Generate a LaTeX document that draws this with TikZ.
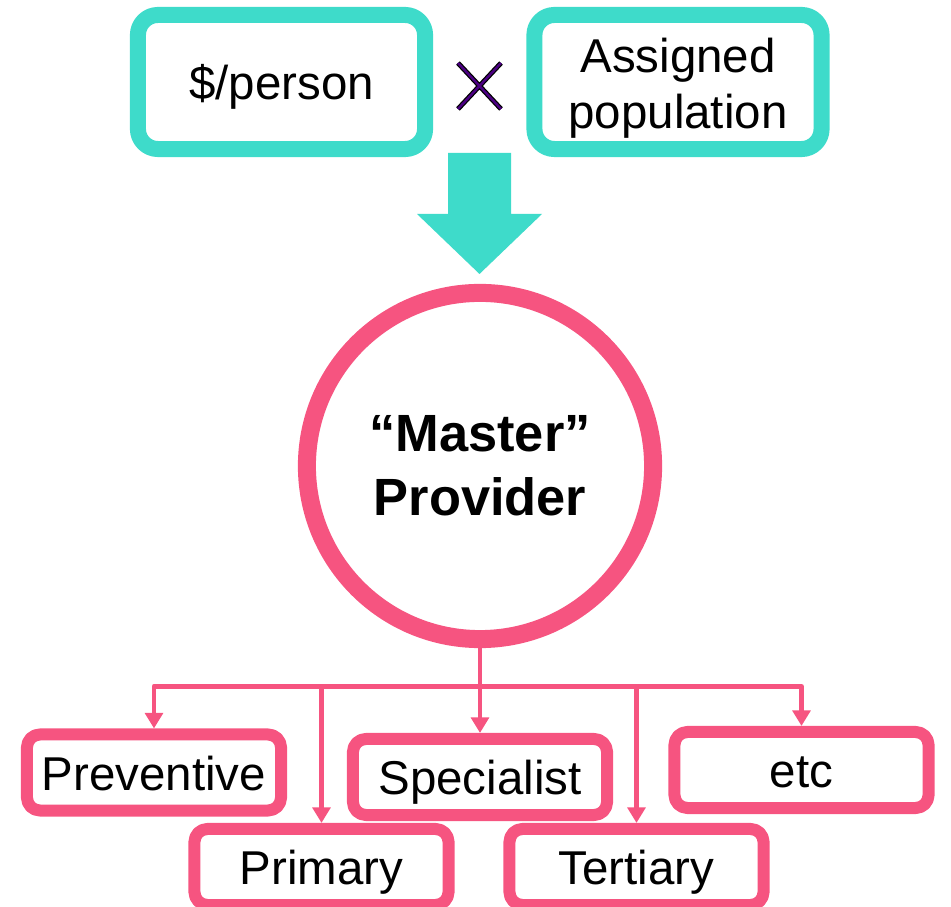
\documentclass[tikz,border=0pt]{standalone}
\usepackage{fontspec}
\setmainfont{Liberation Sans}
\usetikzlibrary{arrows.meta}
\definecolor{tealc}{RGB}{62,219,202}
\definecolor{pinkc}{RGB}{246,84,128}
\definecolor{purplec}{RGB}{75,0,130}
\begin{document}
\begin{tikzpicture}[x=0.01cm, y=-0.01cm, font=\fontsize{13.5pt}{15.9pt}\selectfont, line join=round, >={Triangle[length=4.4pt,width=5pt]},
	tealbox/.style={draw=tealc, fill=white, line width=0.16cm, rounded corners=0.2cm, minimum width=2.87cm, minimum height=1.34cm, align=center, inner sep=0pt, text height=10.2pt, text depth=0pt},
	pinkbox/.style={draw=pinkc, fill=white, line width=0.12cm, rounded corners=0.13cm, minimum width=2.54cm, minimum height=0.76cm, inner sep=0pt, text height=10pt, text depth=0pt},
	link/.style={draw=pinkc, line width=1.4pt, ->},
	times/.style={draw=black, double=purplec, double distance=0.7pt, line width=0.35pt}]
	\useasboundingbox (0,0) rectangle (951,907);
	% top row
	\node[tealbox] (cost) at (281.5,82) {\$/person};
	\node[tealbox, text height=26.2pt] (pop) at (678,82) {Assigned\\population};
	\draw[times] (458,63)--(501,109) (458,109)--(501,63);
	\fill[tealc] (448,153)--(511,153)--(511,214)--(542,214)--(479.5,274)--(417,214)--(448,214)--cycle;
	% provider
	\node[draw=pinkc, fill=white, line width=0.18cm, circle, minimum size=3.46cm, align=center, inner sep=0pt,
		font=\fontsize{14.9pt}{18.2pt}\selectfont\bfseries] (master) at (480,466) {“Master”\\Provider};
	% services
	\node[pinkbox] (prev) at (154,772.5) {Preventive};
	\node[pinkbox] (spec) at (480,777) {Specialist};
	\node[pinkbox] (etc) at (801.5,770) {etc};
	\node[pinkbox] (prim) at (321.5,867) {Primary};
	\node[pinkbox] (tert) at (636.5,867) {Tertiary};
	\coordinate (hub) at (480,686.5);
	\draw[pinkc, line width=1.4pt] (master.south)--(hub);
	\foreach \b in {prev,prim,spec,tert,etc}
	\draw[link] (hub) -| (\b.north);
\end{tikzpicture}
\end{document}
